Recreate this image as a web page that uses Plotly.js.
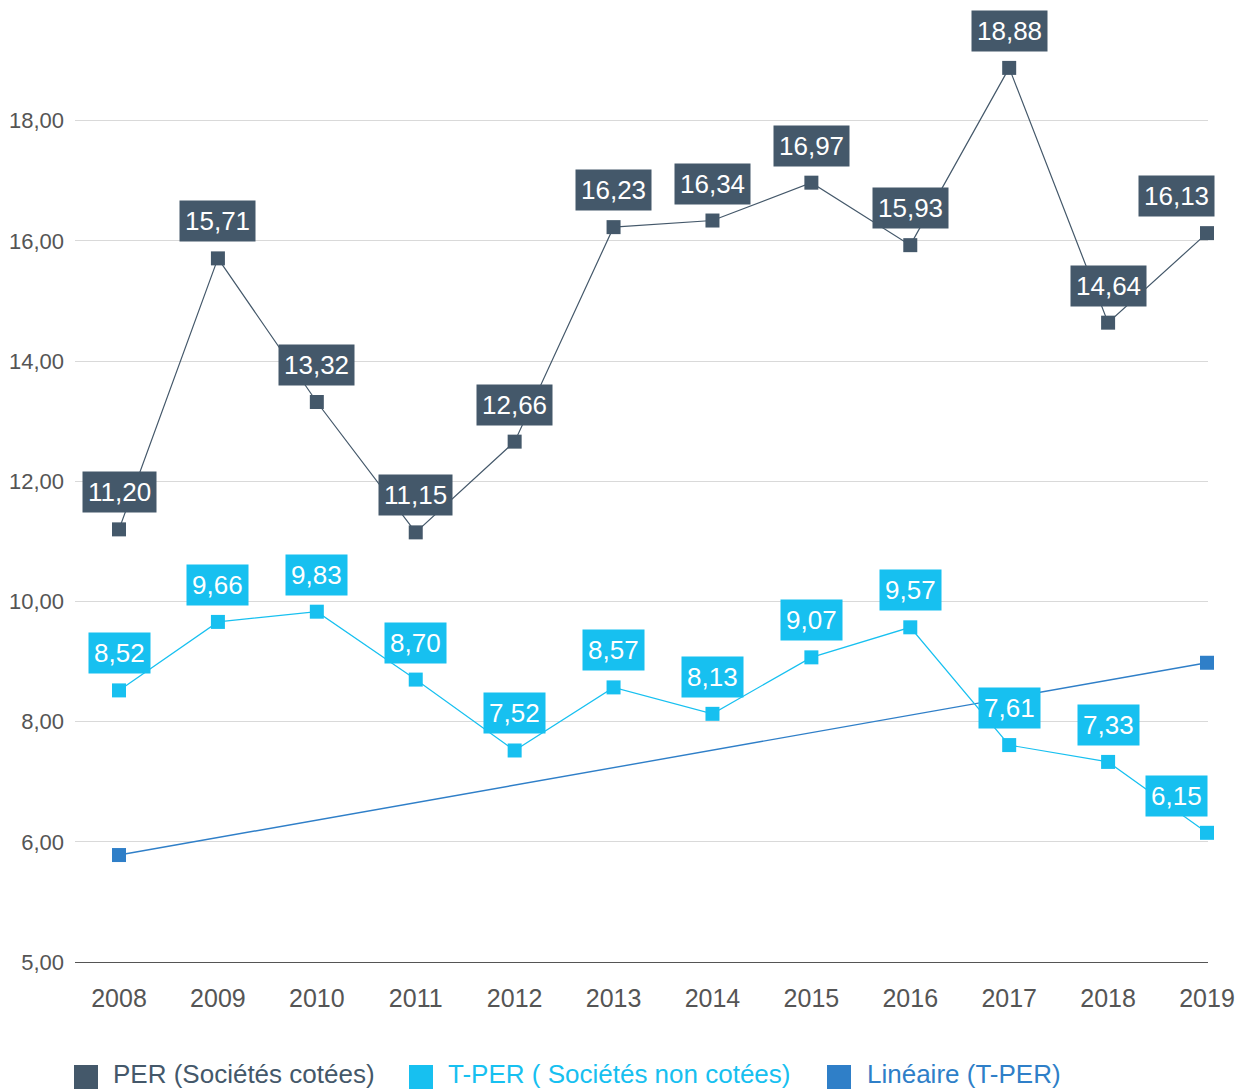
<!DOCTYPE html>
<html>
<head>
<meta charset="utf-8">
<script src="https://cdn.plot.ly/plotly-3.0.1.min.js"></script>
<style>html,body{margin:0;padding:0;background:#fff;}#chart{width:1239px;height:1089px;}</style>
</head>
<body>
<div id="chart"></div>
<script>
// ---- data ----
const years = [2008, 2009, 2010, 2011, 2012, 2013, 2014, 2015, 2016, 2017, 2018, 2019];
const perValues = [11.20, 15.71, 13.32, 11.15, 12.66, 16.23, 16.34, 16.97, 15.93, 18.88, 14.64, 16.13];
const tperValues = [8.52, 9.66, 9.83, 8.70, 7.52, 8.57, 8.13, 9.07, 9.57, 7.61, 7.33, 6.15];
const trendYears = [2008, 2019];
const trendValues = [5.78, 8.98];
const yTickVals = [4, 6, 8, 10, 12, 14, 16, 18];
const yTickText = ['5,00', '6,00', '8,00', '10,00', '12,00', '14,00', '16,00', '18,00'];
const seriesNames = ['PER (Sociétés cotées)', 'T-PER ( Sociétés non cotées)', 'Linéaire (T-PER)'];

// ---- styles ----
const cPER = '#44586a';
const cTPER = '#17c0f0';
const cLIN = '#2f7fc8';
const FONT = '"Helvetica Neue", "Liberation Sans", Arial, sans-serif';

const L = 75, R = 1208, T = 0, B = 962, W = 1239, H = 1089;
const px = v => (v - L) / (R - L);
const py = v => (B - v) / (B - T);

const traces = [
  {x: trendYears, y: trendValues, mode: 'lines+markers', name: seriesNames[2], showlegend: false,
   line: {color: cLIN, width: 1.4}, marker: {symbol: 'square', size: 14, color: cLIN}, cliponaxis: false, hoverinfo: 'skip'},
  {x: years, y: tperValues, mode: 'lines+markers', name: seriesNames[1], showlegend: false,
   line: {color: cTPER, width: 1.2}, marker: {symbol: 'square', size: 14, color: cTPER}, cliponaxis: false},
  {x: years, y: perValues, mode: 'lines+markers', name: seriesNames[0], showlegend: false,
   line: {color: cPER, width: 1.2}, marker: {symbol: 'square', size: 14, color: cPER}, cliponaxis: false}
];

const fmt = v => v.toFixed(2).replace('.', ',');
const annotations = [];
function addLabels(vals, color) {
  vals.forEach((v, i) => {
    annotations.push({
      x: years[i], y: v, xref: 'x', yref: 'y', text: fmt(v), showarrow: false,
      yshift: 37, xshift: (i === years.length - 1) ? -31 : 0,
      bgcolor: color, borderpad: 5,
      font: {family: FONT, size: 26, color: '#ffffff'}
    });
  });
}
addLabels(perValues, cPER);
addLabels(tperValues, cTPER);

// custom legend
const legendItems = [
  {sq: 74, tx: 111, color: cPER, name: seriesNames[0]},
  {sq: 409, tx: 446, color: cTPER, name: seriesNames[1]},
  {sq: 827, tx: 865, color: cLIN, name: seriesNames[2]}
];
const shapes = [];
legendItems.forEach(it => {
  shapes.push({type: 'rect', xref: 'paper', yref: 'paper',
    x0: px(it.sq), x1: px(it.sq + 24), y0: py(1089), y1: py(1065),
    fillcolor: it.color, line: {width: 0}});
  annotations.push({xref: 'paper', yref: 'paper', x: px(it.tx), y: py(1074),
    xanchor: 'left', yanchor: 'middle', showarrow: false, text: it.name,
    font: {family: FONT, size: 26, color: it.color}});
});

const layout = {
  width: W, height: H,
  margin: {l: L, r: W - R, t: T, b: H - B},
  paper_bgcolor: '#ffffff', plot_bgcolor: '#ffffff',
  showlegend: false,
  font: {family: FONT, color: '#555555'},
  xaxis: {
    range: [2007.555, 2019.01], tickvals: years, ticktext: years.map(String),
    showgrid: false, zeroline: false, showline: true, linecolor: '#555555', linewidth: 1.2,
    ticks: '', ticklabelstandoff: 14, tickfont: {family: FONT, size: 25, color: '#555555'}
  },
  yaxis: {
    range: [4, 20.01], tickvals: yTickVals, ticktext: yTickText,
    showgrid: true, gridcolor: '#d9d9d9', gridwidth: 1, zeroline: false, showline: false,
    ticks: '', ticklabelstandoff: 10, tickfont: {family: FONT, size: 22, color: '#555555'}
  },
  annotations: annotations,
  shapes: shapes
};

Plotly.newPlot('chart', traces, layout, {displayModeBar: false, staticPlot: true});
</script>
</body>
</html>
